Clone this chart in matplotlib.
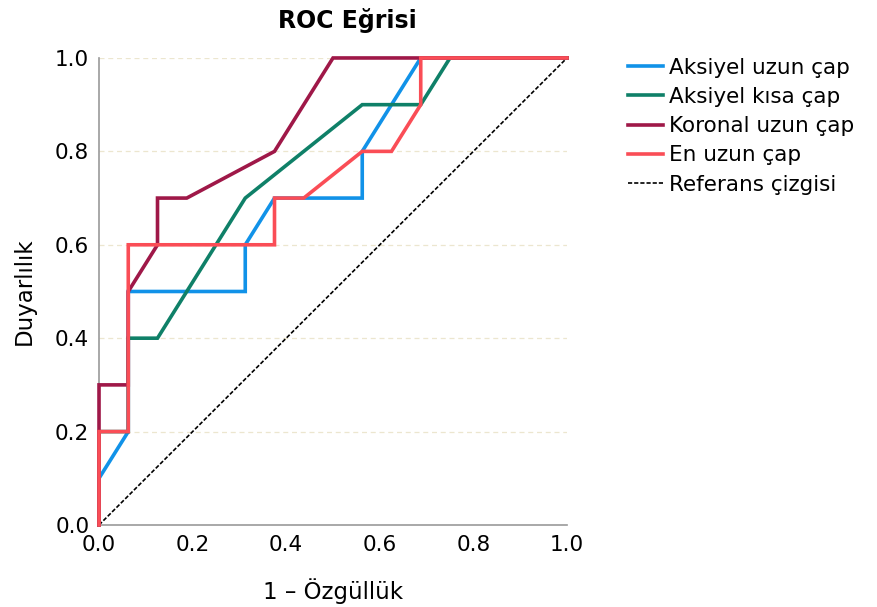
import matplotlib
matplotlib.use("Agg")
import matplotlib.pyplot as plt

plt.rcParams['font.family'] = ['DejaVu Sans']

series_names = ["Aksiyel uzun çap", "Aksiyel kısa çap", "Koronal uzun çap", "En uzun çap"]
colors = ["#1192e8", "#0f8068", "#9f1848", "#fa4d56"]

ax_fpr = [0, 0, 0.0625, 0.0625, 0.3125, 0.3125, 0.375, 0.5625, 0.5625, 0.6875, 1.0]
ax_tpr = [0, 0.1, 0.2, 0.5, 0.5, 0.6, 0.7, 0.7, 0.8, 1.0, 1.0]

ak_fpr = [0, 0, 0.0625, 0.0625, 0.125, 0.3125, 0.5625, 0.6875, 0.75, 1.0]
ak_tpr = [0, 0.2, 0.2, 0.4, 0.4, 0.7, 0.9, 0.9, 1.0, 1.0]

ko_fpr = [0, 0, 0.0625, 0.0625, 0.125, 0.125, 0.1875, 0.375, 0.5, 1.0]
ko_tpr = [0, 0.3, 0.3, 0.5, 0.6, 0.7, 0.7, 0.8, 1.0, 1.0]

en_fpr = [0, 0, 0.0625, 0.0625, 0.375, 0.375, 0.4375, 0.5625, 0.625, 0.6875, 0.6875, 1.0]
en_tpr = [0, 0.2, 0.2, 0.6, 0.6, 0.7, 0.7, 0.8, 0.8, 0.9, 1.0, 1.0]

ref_x = [0, 1]
ref_y = [0, 1]

ticks = [0.0, 0.2, 0.4, 0.6, 0.8, 1.0]

fig = plt.figure(figsize=(8.77, 6.07), dpi=100)
ax = fig.add_axes([0.1129, 0.1351, 0.5336, 0.7694])

for y in ticks[1:]:
    ax.axhline(y, color="#ece6cf", lw=0.9, ls=(0, (4, 3)), zorder=0)

ax.plot(ref_x, ref_y, color="black", lw=1.2, ls=(0, (2.5, 1.2)), label="Referans çizgisi", zorder=2)

data = [(ax_fpr, ax_tpr), (ak_fpr, ak_tpr), (ko_fpr, ko_tpr), (en_fpr, en_tpr)]
for i, ((fx, ty), name, c) in enumerate(zip(data, series_names, colors)):
    ax.plot(fx, ty, color=c, lw=2.6, label=name, solid_joinstyle="miter",
            clip_on=False, zorder=3 + i)

ax.set_xlim(0, 1)
ax.set_ylim(0, 1)
ax.set_xticks(ticks)
ax.set_yticks(ticks)
ax.set_xticklabels([f"{t:.1f}" for t in ticks])
ax.set_yticklabels([f"{t:.1f}" for t in ticks])
ax.tick_params(length=0, labelsize=15.5, pad=7, colors="black")
for s in ["top", "right"]:
    ax.spines[s].set_visible(False)
for s in ["left", "bottom"]:
    ax.spines[s].set_color("#999999")
    ax.spines[s].set_linewidth(1.2)
    ax.spines[s].set_zorder(2.5)

ax.text(0.53, 1.0 + 38 / 468, "ROC Eğrisi", transform=ax.transAxes, fontsize=17,
        fontweight="bold", ha="center", va="center")
ax.set_xlabel("1 – Özgüllük", fontsize=16.5, labelpad=17)
ax.set_ylabel("Duyarlılık", fontsize=16.5, labelpad=14)

handles, labels = ax.get_legend_handles_labels()
order = [1, 2, 3, 4, 0]
leg = fig.legend([handles[i] for i in order], [labels[i] for i in order],
                 loc="upper left", bbox_to_anchor=(0.716, 0.905), frameon=False,
                 fontsize=15.5, handlelength=1.65, handletextpad=0.25, labelspacing=0.43,
                 borderaxespad=0, borderpad=0)

fig.savefig("out.png", dpi=100)
